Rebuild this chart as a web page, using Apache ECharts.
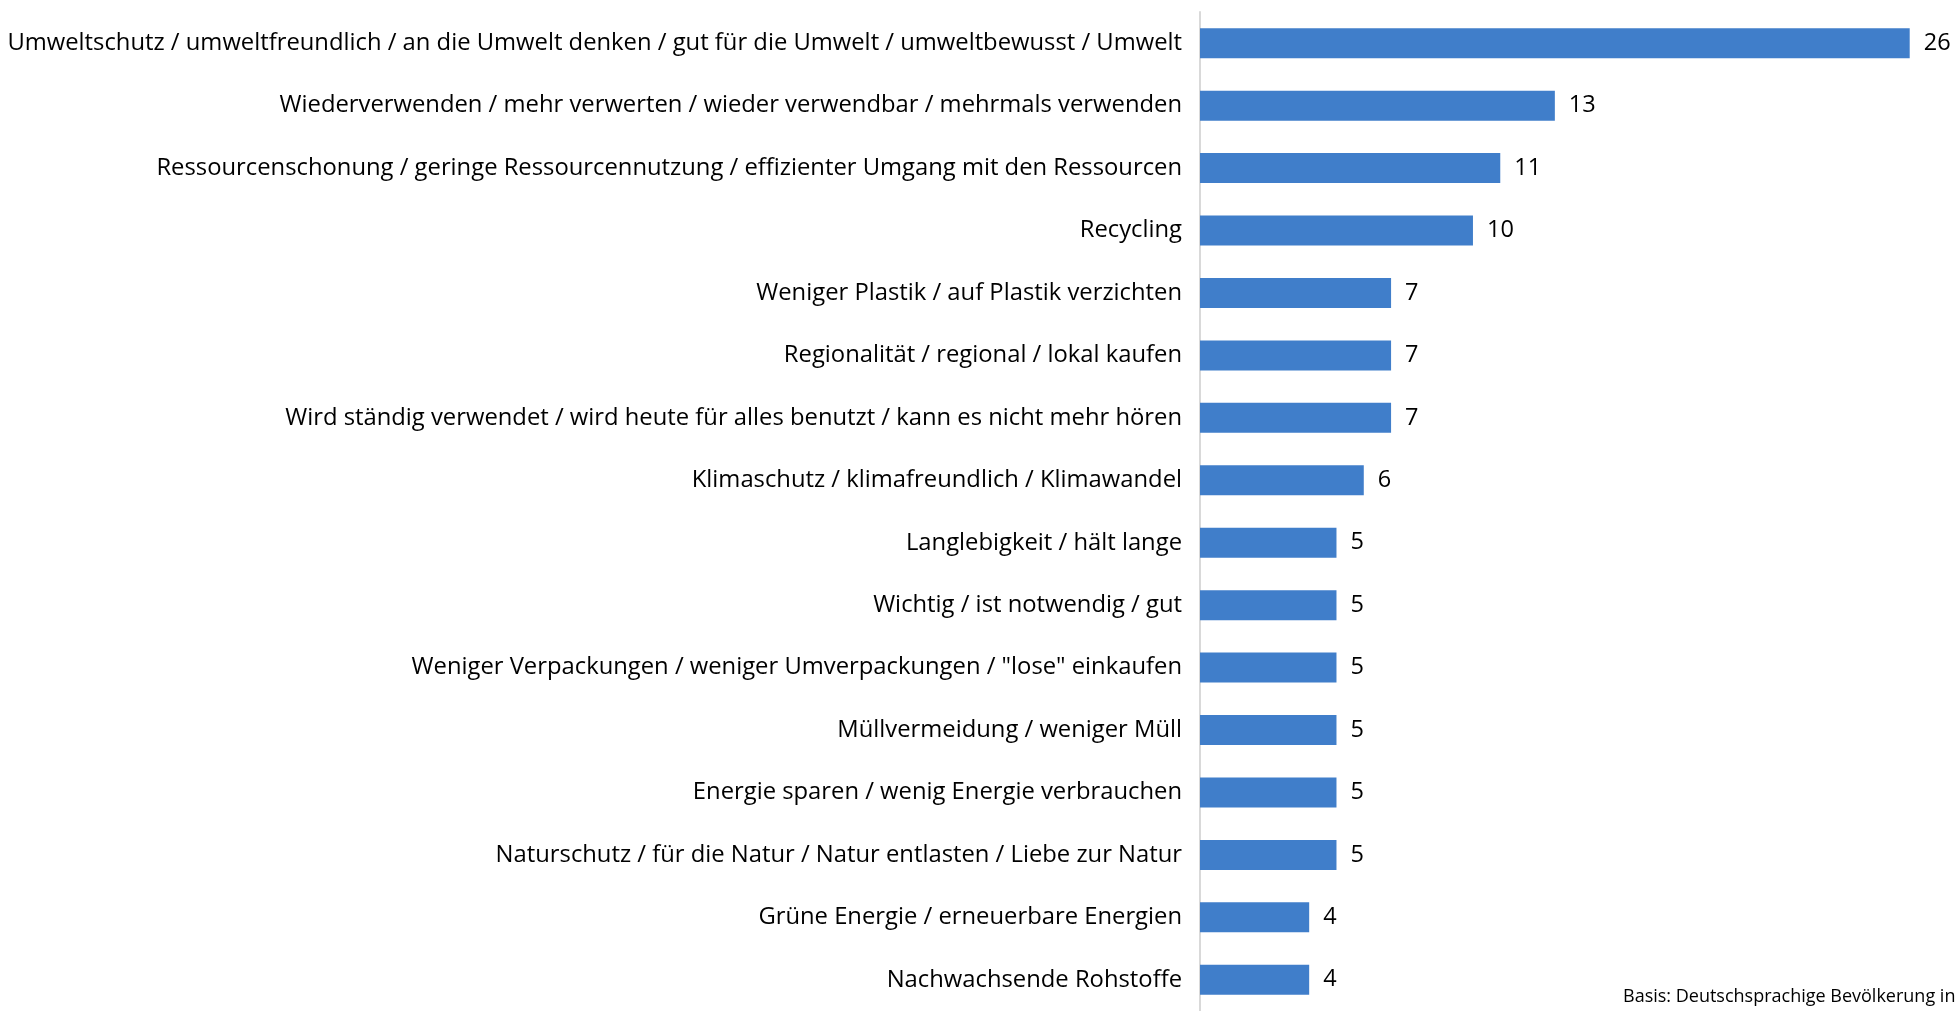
<!DOCTYPE html>
<html>
<head>
<meta charset="utf-8">
<script src="https://cdn.jsdelivr.net/npm/echarts@6/dist/echarts.min.js"></script>
<style>
  html, body { margin: 0; padding: 0; background: #fff; }
  #chart { width: 1957px; height: 1011px; }
</style>
</head>
<body>
<div id="chart"></div>
<script>
// Kategorien von oben nach unten
const categories = [
    'Umweltschutz / umweltfreundlich / an die Umwelt denken / gut für die Umwelt / umweltbewusst / Umwelt',
    'Wiederverwenden / mehr verwerten / wieder verwendbar / mehrmals verwenden',
    'Ressourcenschonung / geringe Ressourcennutzung / effizienter Umgang mit den Ressourcen',
    'Recycling',
    'Weniger Plastik / auf Plastik verzichten',
    'Regionalität / regional / lokal kaufen',
    'Wird ständig verwendet / wird heute für alles benutzt / kann es nicht mehr hören',
    'Klimaschutz / klimafreundlich / Klimawandel',
    'Langlebigkeit / hält lange',
    'Wichtig / ist notwendig / gut',
    'Weniger Verpackungen / weniger Umverpackungen / "lose" einkaufen',
    'Müllvermeidung / weniger Müll',
    'Energie sparen / wenig Energie verbrauchen',
    'Naturschutz / für die Natur / Natur entlasten / Liebe zur Natur',
    'Grüne Energie / erneuerbare Energien',
    'Nachwachsende Rohstoffe',
];
const values = [26, 13, 11, 10, 7, 7, 7, 6, 5, 5, 5, 5, 5, 5, 4, 4];
const footnote = 'Basis: Deutschsprachige Bevölkerung in Deutschland';

const font = '"Open Sans", sans-serif';
const myChart = echarts.init(document.getElementById('chart'));

const option = {
    animation: false,
    grid: {
        left: 1200,
        top: 12,
        width: 737,
        bottom: -2,
    },
    xAxis: {
        type: 'value',
        min: 0,
        max: 27,
        show: false,
    },
    yAxis: {
        type: 'category',
        inverse: true,
        data: categories,
        axisLine: { lineStyle: { color: '#d9d9d9', width: 2 } },
        axisTick: { length: 6, lineStyle: { color: '#d9d9d9', width: 2 } },
        axisLabel: {
            margin: 18,
            color: '#000',
            fontFamily: font,
            fontSize: 23.8,
        },
    },
    series: [
        {
            type: 'bar',
            data: values,
            barWidth: '48%',
            itemStyle: { color: '#407ECA' },
            label: {
                show: true,
                position: 'right',
                distance: 14,
                color: '#000',
                fontFamily: font,
                fontSize: 23.5,
            },
        },
    ],
    graphic: [
        {
            type: 'text',
            x: 1623,
            y: 997,
            style: {
                text: footnote,
                fill: '#000',
                font: '18px ' + font,
                verticalAlign: 'middle',
            },
        },
    ],
};

myChart.setOption(option);
</script>
</body>
</html>
